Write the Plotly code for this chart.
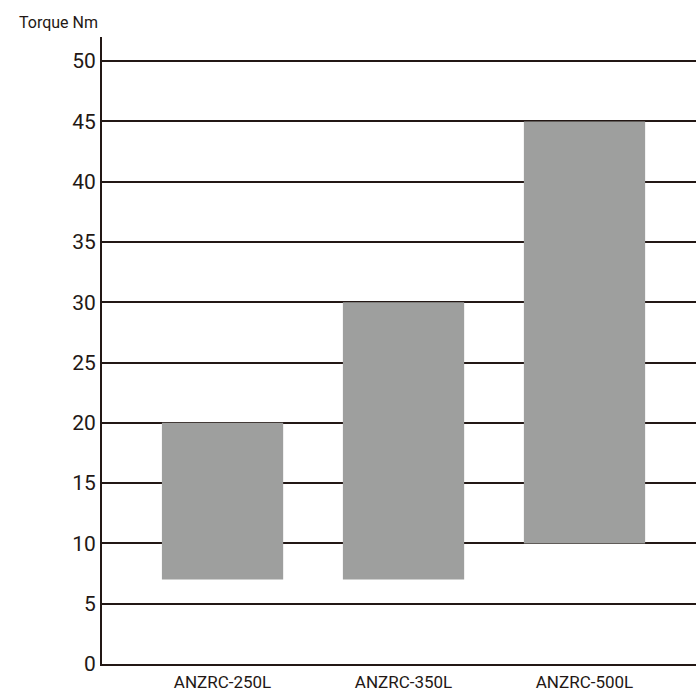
import plotly.graph_objects as go

categories = ["ANZRC-250L", "ANZRC-350L", "ANZRC-500L"]
torque_min = [7, 7, 10]
torque_max = [20, 30, 45]
y_ticks = [0, 5, 10, 15, 20, 25, 30, 35, 40, 45, 50]

heights = [hi - lo for lo, hi in zip(torque_min, torque_max)]

line_col = "#231815"
font_fam = "Roboto, Noto Sans, sans-serif"

fig = go.Figure(go.Bar(
    x=[0, 1, 2],
    y=heights,
    base=torque_min,
    width=0.67,
    marker=dict(color="#9e9f9e", line=dict(width=0)),
))

fig.update_layout(
    width=696, height=695,
    margin=dict(l=102, r=0, t=37, b=31),
    plot_bgcolor="white", paper_bgcolor="white",
    showlegend=False,
    font=dict(family=font_fam, color=line_col),
    xaxis=dict(
        range=[-0.666, 2.616],
        tickvals=[0, 1, 2], ticktext=categories,
        showgrid=False, zeroline=False,
        showline=True, linecolor=line_col, linewidth=2,
        ticks="", tickfont=dict(size=17, color=line_col),
        ticklabelstandoff=2,
    ),
    yaxis=dict(
        range=[0, 52],
        tickvals=y_ticks,
        showgrid=True, gridcolor=line_col, gridwidth=1.6,
        zeroline=False,
        showline=True, linecolor=line_col, linewidth=2,
        ticks="", tickfont=dict(size=21, color=line_col),
        ticklabelstandoff=0,
    ),
    annotations=[dict(
        text="Torque Nm", xref="paper", yref="paper",
        x=17 / 594 - 102 / 594, y=1.0, xanchor="left", yanchor="middle", yshift=15,
        showarrow=False, font=dict(size=16, color=line_col),
    )],
)

fig.write_html(
    "out.html",
    config={"displayModeBar": False},
    post_script="document.body.style.margin='0';document.body.style.overflow='hidden';",
)
